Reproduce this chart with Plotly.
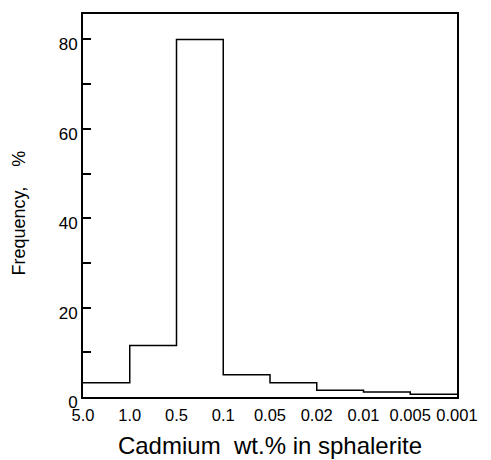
import plotly.graph_objects as go

# Bin boundary labels (Cd wt.% in sphalerite), left to right
bin_labels = ["5.0", "1.0", "0.5", "0.1", "0.05", "0.02", "0.01", "0.005", "0.001"]
# Frequency (%) for each bin between consecutive boundaries
frequency = [3.2, 11.5, 80.0, 5.0, 3.2, 1.5, 1.1, 0.6]

edges = list(range(len(bin_labels)))
step_x = edges
step_y = frequency + [frequency[-1]]

font_family = "Liberation Sans, Arial, Helvetica, sans-serif"

fig = go.Figure()
fig.add_trace(go.Scatter(
    x=step_x, y=step_y, mode="lines",
    line=dict(shape="hv", color="black", width=1.5),
    hoverinfo="skip", showlegend=False,
))

fig.update_layout(
    width=491, height=460,
    margin=dict(l=83, r=34, t=14, b=63),
    paper_bgcolor="white", plot_bgcolor="white",
    font=dict(family=font_family, color="black"),
    showlegend=False,
)
fig.update_xaxes(
    range=[0, len(bin_labels) - 1],
    tickmode="array", tickvals=edges, ticktext=bin_labels,
    ticks="", tickfont=dict(size=16.5), tickangle=0, ticklabelstandoff=2,
    showgrid=False, zeroline=False, automargin=False,
    showline=True, linecolor="black", linewidth=2, mirror=True,
    title=dict(text="Cadmium\u00a0\u00a0wt.% in sphalerite", font=dict(size=24), standoff=14),
)
fig.update_yaxes(
    range=[0, 85.7],
    tickmode="array", tickvals=[0, 20, 40, 60, 80],
    ticks="inside", ticklen=8, tickwidth=1.5, tickcolor="black",
    minor=dict(tickvals=[10, 30, 50, 70], ticks="inside", ticklen=8, tickwidth=1.5, tickcolor="black"),
    tickfont=dict(size=17), ticklabelshift=5,
    showgrid=False, zeroline=False, automargin=False,
    showline=True, linecolor="black", linewidth=2, mirror=True,
)
fig.add_annotation(
    text="Frequency,\u00a0\u00a0\u00a0\u00a0%", textangle=-90,
    xref="paper", yref="paper", x=0, y=0.5,
    xanchor="center", yanchor="middle", xshift=-65, yshift=-8,
    showarrow=False, font=dict(size=18),
)

fig.write_html("out.html", config={"displayModeBar": False},
               post_script="document.body.style.margin='0';document.body.style.overflow='hidden';")
